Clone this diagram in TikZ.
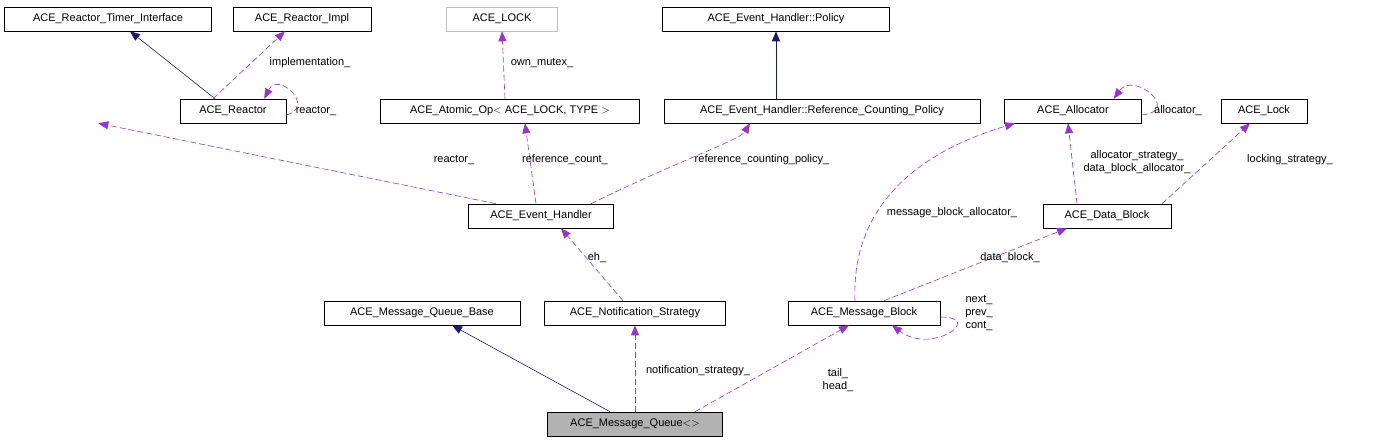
\documentclass[tikz,border=0pt]{standalone}
\usepackage{fontspec}
\setmainfont{Liberation Sans}
\usetikzlibrary{arrows.meta,positioning}
\definecolor{depcol}{HTML}{9A32CD}
\definecolor{inhcol}{HTML}{191970}
\tikzset{
	every node/.style={
		font=\fontsize{11}{13}\selectfont
	},
	cls/.style={
		shape=rectangle,
		draw=black,
		minimum height=24pt,
		inner xsep=6pt
	},
	inh/.style={
		draw=inhcol,
		-{Triangle[length=10pt,width=8pt]}
	},
	dep/.style={
		draw=depcol,
		dashed,
		dash pattern=on 6pt off 3pt,
		-{Triangle[length=10pt,width=8pt,fill=depcol]}
	},
	lbl/.style={
		inner sep=1pt,
		align=center
	}
}
\begin{document}
\begin{tikzpicture}[x=1pt,y=1pt,semithick]
	\useasboundingbox (0,0) rectangle (1373,-443);

	% Klassen
	\node[cls, minimum width=207pt] (timer)  at (108,-19)  {ACE\_Reactor\_Timer\_Interface};
	\node[cls, minimum width=138pt] (impl)   at (302,-19)  {ACE\_Reactor\_Impl};
	\node[cls, minimum width=111pt, draw=gray!50] (lock) at (502,-19) {ACE\_LOCK};
	\node[cls, minimum width=227pt] (policy) at (776,-19)  {ACE\_Event\_Handler::Policy};
	\node[cls, minimum width=106pt] (reactor) at (233,-111) {ACE\_Reactor};
	\node[cls, minimum width=259pt] (atomic) at (510,-111) {ACE\_Atomic\_Op$<$ ACE\_LOCK, TYPE $>$};
	\node[cls, minimum width=316pt] (refpol) at (822,-111) {ACE\_Event\_Handler::Reference\_Counting\_Policy};
	\node[cls, minimum width=137pt] (alloc)  at (1073,-111) {ACE\_Allocator};
	\node[cls, minimum width=86pt]  (alock)  at (1264,-111) {ACE\_Lock};
	\node[cls, minimum width=145pt] (handler) at (541,-216) {ACE\_Event\_Handler};
	\node[cls, minimum width=128pt] (datab)  at (1107,-216) {ACE\_Data\_Block};
	\node[cls, minimum width=196pt] (qbase)  at (422,-313) {ACE\_Message\_Queue\_Base};
	\node[cls, minimum width=181pt] (notif)  at (635,-313) {ACE\_Notification\_Strategy};
	\node[cls, minimum width=152pt] (mblock) at (864,-313) {ACE\_Message\_Block};
	\node[cls, minimum width=175pt, fill=gray!60] (queue) at (635,-424) {ACE\_Message\_Queue$<$$>$};

	% Vererbung
	\draw[inh] (reactor.north) ++(-18,0) -- ([xshift=22pt]timer.south);
	\draw[inh] (refpol.north) ++(-46,0) -- (policy.south);
	\draw[inh] (queue.north) ++(-25,0) -- ([xshift=30pt]qbase.south);

	% Benutzung
	\draw[dep] ([xshift=-20pt]reactor.north) -- ([xshift=-17pt]impl.south);
	\draw[dep] ([yshift=-4pt]reactor.east) .. controls +(30,8) and +(14,28) .. ([xshift=-22pt]reactor.north east);
	\draw[dep] ([xshift=-5pt]atomic.north) -- (lock.south);
	\draw[dep] ([xshift=-45pt]handler.north) -- ([xshift=-188pt]reactor.south east);
	\draw[dep] ([xshift=-5pt]handler.north) -- ([xshift=15pt]atomic.south);
	\draw[dep] ([xshift=50pt]handler.north) .. controls (680,-160) and (740,-140) .. ([xshift=-72pt]refpol.south);
	\draw[dep] ([yshift=-4pt]alloc.east) .. controls +(40,4) and +(20,28) .. ([xshift=-28pt]alloc.north east);
	\draw[dep] ([xshift=-30pt]datab.north) -- ([xshift=-5pt]alloc.south);
	\draw[dep] ([xshift=55pt]datab.north) -- ([xshift=-14pt]alock.south);
	\draw[dep] ([xshift=-9pt]mblock.north) .. controls (850,-180) and (960,-140) .. ([xshift=-58pt]alloc.south);
	\draw[dep] ([xshift=20pt]mblock.north) -- ([xshift=-40pt]datab.south);
	\draw[dep] ([yshift=-4pt]mblock.east) .. controls +(45,0) and +(40,-30) .. ([xshift=28pt]mblock.south);
	\draw[dep] ([xshift=-12pt]notif.north) -- ([xshift=20pt]handler.south);
	\draw[dep] (queue.north) -- (notif.south);
	\draw[dep] ([xshift=60pt]queue.north) -- ([xshift=-15pt]mblock.south);

	% Beschriftungen
	\node[lbl] (l1)  at (310,-63)  {implementation\_};
	\node[lbl] (l2)  at (316,-111) {reactor\_};
	\node[lbl] (l3)  at (542,-63)  {own\_mutex\_};
	\node[lbl] (l4)  at (454,-160) {reactor\_};
	\node[lbl] (l5)  at (565,-160) {reference\_count\_};
	\node[lbl] (l6)  at (762,-160) {reference\_counting\_policy\_};
	\node[lbl] (l7)  at (1178,-111) {allocator\_};
	\node[lbl] (l8)  at (1137,-162) {allocator\_strategy\_\\data\_block\_allocator\_};
	\node[lbl] (l9)  at (1290,-160) {locking\_strategy\_};
	\node[lbl] (l10) at (952,-213) {message\_block\_allocator\_};
	\node[lbl] (l11) at (1010,-258) {data\_block\_};
	\node[lbl] (l12) at (979,-313) {next\_\\prev\_\\cont\_};
	\node[lbl] (l13) at (597,-258) {eh\_};
	\node[lbl] (l14) at (698,-371) {notification\_strategy\_};
	\node[lbl] (l15) at (838,-380) {tail\_\\head\_};
\end{tikzpicture}
\end{document}
